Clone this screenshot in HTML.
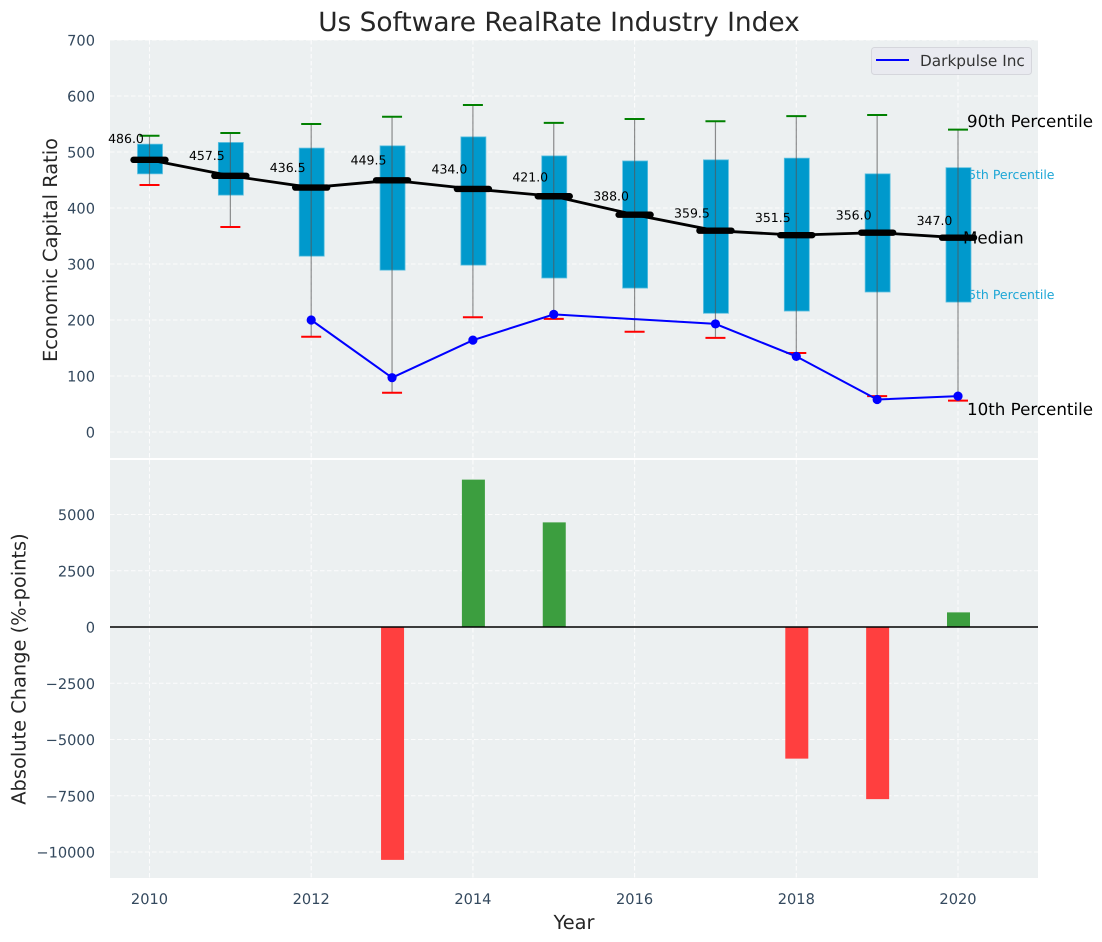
<!DOCTYPE html>
<html>
<head>
<meta charset="utf-8">
<title>Us Software RealRate Industry Index</title>
<style>
html,body{margin:0;padding:0;background:#fff;width:1102px;height:942px;overflow:hidden}
svg{display:block}
text{font-family:"DejaVu Sans","Liberation Sans",sans-serif;text-rendering:geometricPrecision}
</style>
</head>
<body>
<svg id="chart" xmlns="http://www.w3.org/2000/svg" width="1102" height="942" viewBox="0 0 1102 942">
  <rect x="110" y="40" width="928" height="418" fill="#ecf0f1"/>
  <rect x="110" y="460" width="928" height="418" fill="#ecf0f1"/>
  <g id="grid"></g>
  <g id="ticks" fill="#34495e" font-size="14.6"></g>
  <text x="559" y="31" text-anchor="middle" font-size="26.4" fill="#262626">Us Software RealRate Industry Index</text>
  <text transform="translate(57,250) rotate(-90)" text-anchor="middle" font-size="19.4" fill="#262626">Economic Capital Ratio</text>
  <text transform="translate(25.5,669) rotate(-90)" text-anchor="middle" font-size="19.4" fill="#262626">Absolute Change (%-points)</text>
  <text x="574" y="929" text-anchor="middle" font-size="19.4" fill="#262626">Year</text>
  <text x="1054.5" y="179" text-anchor="end" font-size="12.5" fill="#1ca6d6">75th Percentile</text>
  <text x="1054.5" y="299" text-anchor="end" font-size="12.5" fill="#1ca6d6">25th Percentile</text>
  <g id="marks"></g>
  <g id="bars"></g>
  <line x1="110" x2="1038" y1="627" y2="627" stroke="#000" stroke-width="1.4"/>
  <text x="967" y="127" font-size="16.7" fill="#000">90th Percentile</text>
  <text x="963" y="243.5" font-size="16.7" fill="#000">Median</text>
  <text x="967" y="415" font-size="16.7" fill="#000">10th Percentile</text>
  <g>
    <rect x="871.5" y="47.5" width="160" height="27" rx="3" fill="#e9eaf0" stroke="#d5d6dc" stroke-width="1"/>
    <line x1="876" x2="909" y1="60" y2="60" stroke="#0000ff" stroke-width="2"/>
    <text x="920" y="66" font-size="15.3" fill="#333333">Darkpulse Inc</text>
  </g>
</svg>
<script>
const years = [2010, 2011, 2012, 2013, 2014, 2015, 2016, 2017, 2018, 2019, 2020];
const p90 = [529, 534, 550, 563, 584, 552, 559, 555, 564, 566, 540];
const p75 = [514, 517, 507, 511, 527, 493, 484, 486, 489, 461, 472];
const median = [486.0, 457.5, 436.5, 449.5, 434.0, 421.0, 388.0, 359.5, 351.5, 356.0, 347.0];
const p25 = [461, 423, 314, 289, 298, 275, 257, 212, 216, 250, 232];
const p10 = [441, 366, 170, 70, 205, 202, 179, 168, 141, 64, 56];
const companyYears = [2012, 2013, 2014, 2015, 2017, 2018, 2019, 2020];
const company = [200, 97, 164, 210, 193, 135, 58, 64];
const changeYears = [2013, 2014, 2015, 2018, 2019, 2020];
const changes = [-10350, 6550, 4650, -5850, -7650, 650];
const xTicks = [2010, 2012, 2014, 2016, 2018, 2020];
const topTicks = [0, 100, 200, 300, 400, 500, 600, 700];
const bottomTicks = [-10000, -7500, -5000, -2500, 0, 2500, 5000];

const NS = 'http://www.w3.org/2000/svg';
const xScale = v => 149.5 + (v - 2010) * 80.85;
const yTop = v => 432 - v * 0.56;
const yBottom = v => 627 - v * 0.0225;
const gridG = document.getElementById('grid');
const tickG = document.getElementById('ticks');
const marksG = document.getElementById('marks');
const barsG = document.getElementById('bars');

function make(parent, tag, attrs, text) {
  const el = document.createElementNS(NS, tag);
  for (const k in attrs) el.setAttribute(k, attrs[k]);
  if (text !== undefined) el.textContent = text;
  parent.appendChild(el);
  return el;
}
const gridStyle = {stroke: '#ffffff', 'stroke-width': 1.1, 'stroke-dasharray': '4.5 2.5', opacity: 0.85};

xTicks.forEach(t => {
  const x = xScale(t);
  const g1 = make(gridG, 'line', Object.assign({x1: x, x2: x, y1: 40, y2: 458}, gridStyle));
  
  
  const g2 = make(gridG, 'line', Object.assign({x1: x, x2: x, y1: 460, y2: 878}, gridStyle));
  
  
  const lbl = make(tickG, 'text', {x: x, y: 904, 'text-anchor': 'middle'}, String(t));
  
  
});
topTicks.forEach(t => {
  const y = yTop(t);
  const g = make(gridG, 'line', Object.assign({x1: 110, x2: 1038, y1: y, y2: y}, gridStyle));
  
  
  const lbl = make(tickG, 'text', {x: 95, y: y + 5.5, 'text-anchor': 'end'}, String(t));
  
  
});
bottomTicks.forEach(t => {
  const y = yBottom(t);
  const g = make(gridG, 'line', Object.assign({x1: 110, x2: 1038, y1: y, y2: y}, gridStyle));
  
  
  const s = t < 0 ? '\u2212' + Math.abs(t) : String(t);
  const lbl = make(tickG, 'text', {x: 95, y: y + 5.5, 'text-anchor': 'end'}, s);
  
  
});

years.forEach((yr, i) => {
  const x = xScale(yr);
  const box = make(marksG, 'rect', {
    x: x - 12, width: 25,
    y: yTop(p75[i]), height: yTop(p25[i]) - yTop(p75[i]),
    fill: '#0099cc', stroke: '#5cc0e0', 'stroke-width': 0.8
  });
  
  
  const whisker = make(marksG, 'line', {
    x1: x, x2: x, y1: yTop(p90[i]), y2: yTop(p10[i]),
    stroke: '#555555', 'stroke-width': 1.2, opacity: 0.65
  });
  
  
  const capHi = make(marksG, 'line', {
    x1: x - 10, x2: x + 10, y1: yTop(p90[i]), y2: yTop(p90[i]),
    stroke: '#008000', 'stroke-width': 2
  });
  
  
  const capLo = make(marksG, 'line', {
    x1: x - 10, x2: x + 10, y1: yTop(p10[i]), y2: yTop(p10[i]),
    stroke: '#ff0000', 'stroke-width': 2
  });
  
  
});

const medianLine = make(marksG, 'polyline', {
  points: years.map((yr, i) => xScale(yr) + ',' + yTop(median[i])).join(' '),
  fill: 'none', stroke: '#000', 'stroke-width': 2.8
});



years.forEach((yr, i) => {
  const x = xScale(yr);
  const y = yTop(median[i]);
  const seg = make(marksG, 'line', {
    x1: x - 16, x2: x + 16, y1: y, y2: y,
    stroke: '#000', 'stroke-width': 6.4, 'stroke-linecap': 'round'
  });
  
  
  const lbl = make(marksG, 'text', {
    x: x - 23.5, y: yTop(median[i] * 1.05) - 3.2, 'text-anchor': 'middle', 'font-size': 12.5, fill: '#000'
  }, median[i].toFixed(1));
  
  
});

const companyLine = make(marksG, 'polyline', {
  points: companyYears.map((yr, i) => xScale(yr) + ',' + yTop(company[i])).join(' '),
  fill: 'none', stroke: '#0000ff', 'stroke-width': 2
});


companyYears.forEach((yr, i) => {
  const c = make(marksG, 'circle', {cx: xScale(yr), cy: yTop(company[i]), r: 4.6, fill: '#0000ff'});
  
  
});

changeYears.forEach((yr, i) => {
  const v = changes[i];
  const top = Math.min(yBottom(v), yBottom(0));
  const h = Math.abs(yBottom(v) - yBottom(0));
  const b = make(barsG, 'rect', {
    x: xScale(yr) - 11, width: 23, y: top, height: h,
    fill: v >= 0 ? '#3c9e3f' : '#ff3f3f'
  });
  
  
});
</script>
</body>
</html>
